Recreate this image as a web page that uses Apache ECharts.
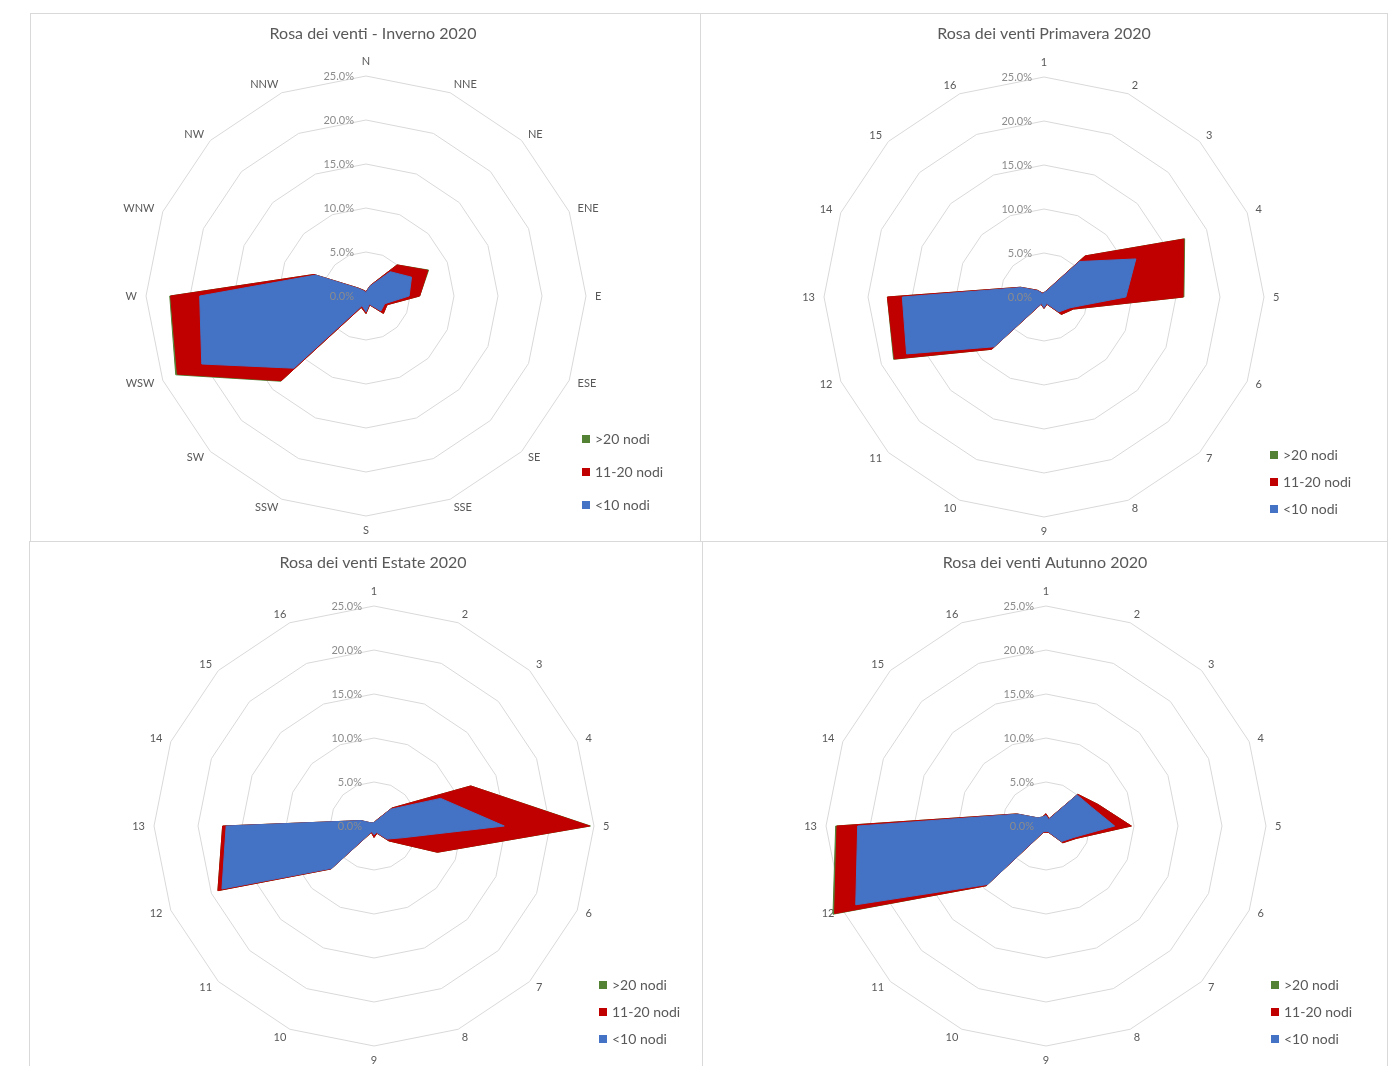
<!DOCTYPE html>
<html>
<head>
<meta charset="utf-8">
<title>Rosa dei venti 2020</title>
<script src="https://cdn.jsdelivr.net/npm/echarts@6/dist/echarts.min.js"></script>
<style>
  html, body { margin: 0; padding: 0; background: #ffffff; width: 1392px; height: 1066px; overflow: hidden; }
  .panel { position: absolute; box-sizing: border-box; border: 1px solid #d9d9d9; background: #ffffff; }
</style>
</head>
<body>
<div id="winter" class="panel" style="left:30px;top:13px;width:671px;height:529px"></div>
<div id="spring" class="panel" style="left:700px;top:13px;width:688px;height:529px"></div>
<div id="summer" class="panel" style="left:29px;top:541px;width:674px;height:540px"></div>
<div id="autumn" class="panel" style="left:702px;top:541px;width:686px;height:540px"></div>
<script>
// Direction labels, clockwise from north
const compassPoints = ['N', 'NNE', 'NE', 'ENE', 'E', 'ESE', 'SE', 'SSE', 'S', 'SSW', 'SW', 'WSW', 'W', 'WNW', 'NW', 'NNW'];
const sectorNumbers = ['1', '2', '3', '4', '5', '6', '7', '8', '9', '10', '11', '12', '13', '14', '15', '16'];

// Radial ticks (% of observations)
const tickValues = [0, 5, 10, 15, 20, 25];

// Wind speed classes, in legend order
const speedClasses = ['>20 nodi', '11-20 nodi', '<10 nodi'];

// Frequency (%) per direction and speed class, clockwise from north
const winterLow    = [0.4, 1.2, 3.9, 5.6, 4.9, 2.3, 2.4, 1.0, 1.8, 1.2, 11.6, 20.2, 18.9, 6.2, 1.2, 0.6];
const winterMid    = [0.1, 0.1, 1.1, 2.0, 1.2, 0.3, 0.4, 0.1, 0.2, 0.2, 2.0, 3.0, 3.3, 0.2, 0.1, 0.1];
const winterHigh   = [0, 0, 0, 0.1, 0, 0, 0, 0, 0, 0, 0.1, 0.2, 0.1, 0, 0, 0];

const springLow    = [0.5, 0.7, 5.7, 11.3, 9.3, 3.2, 2.4, 0.8, 1.2, 0.8, 8.0, 16.9, 16.1, 2.8, 1.0, 0.4];
const springMid    = [0.0, 0.1, 0.9, 5.9, 6.5, 0.4, 0.4, 0.1, 0.1, 0.1, 0.4, 1.5, 1.7, 0.1, 0.1, 0.1];
const springHigh   = [0, 0, 0, 0.1, 0.1, 0, 0, 0, 0, 0, 0, 0.1, 0, 0, 0, 0];

const summerLow    = [0.4, 0.6, 2.7, 8.2, 14.8, 3.5, 2.1, 0.8, 1.0, 0.7, 6.8, 18.7, 16.8, 1.6, 0.5, 0.4];
const summerMid    = [0, 0.1, 0.2, 3.7, 9.7, 4.3, 0.3, 0.1, 0.3, 0.1, 0.1, 0.5, 0.4, 0, 0, 0];
const summerHigh   = [0, 0, 0, 0, 0.1, 0, 0, 0, 0, 0, 0, 0, 0, 0, 0, 0];

const autumnLow    = [1.2, 0.8, 5.0, 5.6, 7.8, 3.4, 2.5, 0.7, 0.6, 0.7, 9.4, 23.4, 21.4, 3.5, 1.3, 1.1];
const autumnMid    = [0.2, 0.1, 0.1, 0.8, 1.9, 0.3, 0.2, 0.1, 0.1, 0.1, 0.2, 2.6, 2.35, 0.1, 0, 0];
const autumnHigh   = [0, 0, 0, 0, 0, 0, 0, 0, 0, 0, 0, 0.2, 0.15, 0, 0, 0];

const COLORS = { high: '#548235', mid: '#c00000', low: '#4472c4' };
const TEXT_DARK = '#595959';
const TEXT_LIGHT = '#8c8c8c';
const FONT = 'Lato, "Open Sans", sans-serif';

// ECharts radar lays indicators out counter-clockwise; reverse the
// clockwise order (keeping north first) so directions run clockwise.
function toCounterClockwise(arr) {
  return [arr[0]].concat(arr.slice(1).reverse());
}

function cumulate(a, b) {
  return a.map((v, i) => +(v + b[i]).toFixed(3));
}

function buildOption(cfg) {
  const lowCum = cfg.low;
  const midCum = cumulate(lowCum, cfg.mid);
  const highCum = cumulate(midCum, cfg.high);
  const minTick = tickValues[0];
  const maxTick = tickValues[tickValues.length - 1];
  const labels = toCounterClockwise(cfg.labels);

  const layers = [
    { name: speedClasses[0], value: highCum, color: COLORS.high },
    { name: speedClasses[1], value: midCum, color: COLORS.mid },
    { name: speedClasses[2], value: lowCum, color: COLORS.low }
  ];

  const radarBase = {
    center: cfg.center,
    radius: 220,
    startAngle: 90,
    shape: 'polygon',
    splitNumber: tickValues.length - 1,
    nameGap: 9,
    axisLine: { show: false },
    axisTick: { show: false },
    splitArea: { show: false }
  };

  return {
    animation: false,
    textStyle: { fontFamily: FONT },
    title: {
      text: cfg.title,
      left: cfg.titleX,
      top: cfg.titleY,
      textAlign: 'center',
      padding: 0,
      textStyle: { color: TEXT_DARK, fontSize: 16, fontWeight: 'normal', fontFamily: FONT }
    },
    legend: {
      orient: 'vertical',
      left: cfg.legendX,
      top: cfg.legendY,
      padding: 0,
      itemGap: cfg.legendGap,
      itemWidth: 8,
      itemHeight: 8,
      icon: 'rect',
      selectedMode: false,
      data: speedClasses,
      textStyle: { color: TEXT_DARK, fontSize: 14, fontFamily: FONT }
    },
    radar: [
      // Grid rings and direction names, beneath the filled areas
      Object.assign({}, radarBase, {
        axisName: { color: TEXT_DARK, fontSize: 11, fontFamily: FONT },
        splitLine: { lineStyle: { color: '#d9d9d9', width: 1 } },
        axisLabel: { show: false },
        indicator: labels.map((name) => ({ name: name, min: minTick, max: maxTick }))
      }),
      // Percentage scale along the north axis, drawn above the areas
      Object.assign({}, radarBase, {
        z: 10,
        axisName: { show: false },
        splitLine: { show: false },
        axisLabel: {
          show: false,
          margin: 12,
          color: TEXT_LIGHT,
          fontSize: 11,
          fontFamily: FONT,
          formatter: (v) => v.toFixed(1) + '%'
        },
        indicator: labels.map((name, i) => {
          const ind = { name: name, min: minTick, max: maxTick };
          if (i === 0) ind.axisLabel = { show: true };
          return ind;
        })
      })
    ],
    series: [{
      type: 'radar',
      radarIndex: 0,
      symbol: 'none',
      silent: true,
      data: layers.map((l) => ({
        name: l.name,
        value: toCounterClockwise(l.value),
        itemStyle: { color: l.color },
        lineStyle: { color: l.color, width: 1 },
        areaStyle: { color: l.color, opacity: 1 }
      }))
    }]
  };
}

const panels = [
  { id: 'winter', title: 'Rosa dei venti - Inverno 2020', labels: compassPoints,
    low: winterLow, mid: winterMid, high: winterHigh,
    center: [335, 282], titleX: 342, titleY: 12, legendX: 551, legendY: 418, legendGap: 19 },
  { id: 'spring', title: 'Rosa dei venti Primavera 2020', labels: sectorNumbers,
    low: springLow, mid: springMid, high: springHigh,
    center: [343, 283], titleX: 343, titleY: 12, legendX: 569, legendY: 434, legendGap: 13 },
  { id: 'summer', title: 'Rosa dei venti Estate 2020', labels: sectorNumbers,
    low: summerLow, mid: summerMid, high: summerHigh,
    center: [344, 284], titleX: 343, titleY: 13, legendX: 569, legendY: 436, legendGap: 13 },
  { id: 'autumn', title: 'Rosa dei venti Autunno 2020', labels: sectorNumbers,
    low: autumnLow, mid: autumnMid, high: autumnHigh,
    center: [343, 284], titleX: 342, titleY: 13, legendX: 568, legendY: 436, legendGap: 13 }
];

panels.forEach((cfg) => {
  const chart = echarts.init(document.getElementById(cfg.id), null, { renderer: 'canvas' });
  chart.setOption(buildOption(cfg));
});
</script>
</body>
</html>
